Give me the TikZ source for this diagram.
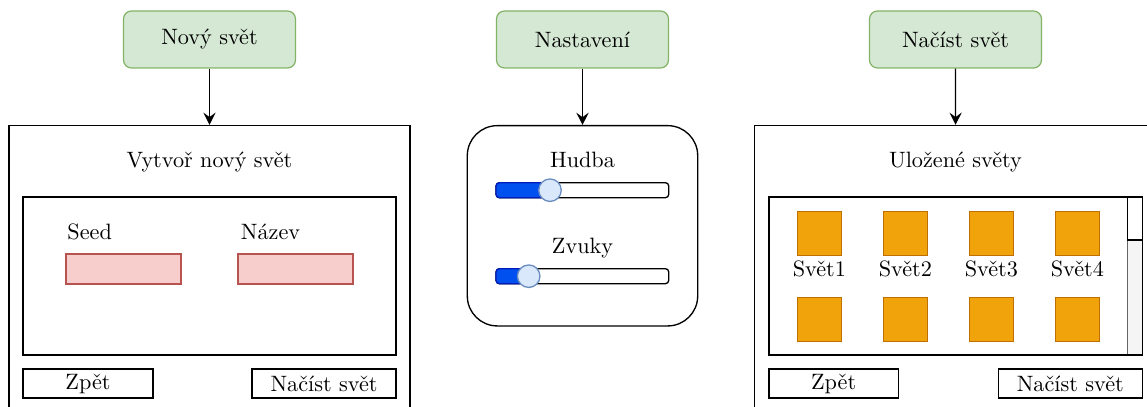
\documentclass[tikz,border=0pt]{standalone}
\usetikzlibrary{arrows.meta}
\newdimen\pxu \pxu=0.45pt
\definecolor{gfill}{HTML}{D5E8D4}
\definecolor{gstroke}{HTML}{82B366}
\definecolor{rfill}{HTML}{F8CECC}
\definecolor{rstroke}{HTML}{B85450}
\definecolor{ofill}{HTML}{F0A30A}
\definecolor{ostroke}{HTML}{BD7000}
\definecolor{bfill}{HTML}{0050EF}
\definecolor{bstroke}{HTML}{001DBC}
\definecolor{kfill}{HTML}{DAE8FC}
\definecolor{kstroke}{HTML}{6C8EBF}
\definecolor{sfill}{HTML}{F5F5F5}
\definecolor{sstroke}{HTML}{666666}
\begin{document}
\begin{tikzpicture}[x=0.45pt,y=-0.45pt,
  head/.style={draw=gstroke, fill=gfill, rounded corners=3.6pt, minimum width=172\pxu, minimum height=57\pxu, line width=0.55pt},
  frame/.style={draw, line width=0.6pt, inner sep=0},
  btn/.style={draw, line width=0.6pt, minimum height=29\pxu, inner sep=0},
  field/.style={draw=rstroke, fill=rfill, minimum width=115\pxu, minimum height=30\pxu, line width=0.55pt},
  tile/.style={draw=ostroke, fill=ofill, minimum size=44\pxu, inner sep=0, line width=0.5pt},
  lbl/.style={anchor=base, inner sep=0},
  knob/.style={circle, draw=kstroke, fill=kfill, minimum size=22.5\pxu, inner sep=0, line width=0.6pt},
  track/.style={draw, rounded corners=1.5pt, minimum width=172.7\pxu, minimum height=15\pxu, line width=0.6pt, inner sep=0},
  link/.style={-{Stealth[length=5.5pt,width=5.5pt,inset=2pt]}, line width=0.6pt}]
\useasboundingbox (0,0) rectangle (1147,407);
\clip (0,0) rectangle (1147,407);
% left
\node[head] (h1) at (209.5,39.5) {Nový svět};
\node[frame, minimum width=401\pxu, minimum height=310\pxu] (f1) at (209.5,280.5) {};
\draw[link] (h1) -- (f1);
\node[lbl] (t1) at (209.5,168) {Vytvoř nový svět};
\node[frame, minimum width=373\pxu, minimum height=158\pxu] (in1) at (209.5,276) {};
\node[lbl, anchor=base west] (seedl) at (67,240) {Seed};
\node[lbl, anchor=base west] (namel) at (240.5,240) {Název};
\node[field] (seed) at (123.5,269) {};
\node[field] (name) at (295.5,269) {};
\node[btn, minimum width=130\pxu] (back1) at (88,383.5) {Zpět};
\node[btn, minimum width=144\pxu] (load1) at (324,383.5) {Načíst svět};
% middle
\node[head] (h2) at (582.5,39.5) {Nastavení};
\node[frame, rounded corners=13.5pt, minimum width=230.4\pxu, minimum height=200.3\pxu] (f2) at (582.5,225.8) {};
\draw[link] (h2) -- (f2);
\node[lbl] (hud) at (582.5,168) {Hudba};
\node[track] (tr1) at (582.4,190.2) {};
\draw[draw=bstroke, fill=bfill, line width=0.6pt, rounded corners=1.5pt] (496,182.7) rectangle (552,197.7);
\node[knob] (k1) at (550,190.2) {};
\node[lbl] (zv) at (582.5,254) {Zvuky};
\node[track] (tr2) at (582.4,276.2) {};
\draw[draw=bstroke, fill=bfill, line width=0.6pt, rounded corners=1.5pt] (496,268.7) rectangle (530,283.7);
\node[knob] (k2) at (528.7,276.2) {};
% right
\node[head] (h3) at (955.5,39.5) {Načíst svět};
\node[frame, minimum width=402\pxu, minimum height=310\pxu] (f3) at (955.7,280.5) {};
\draw[link] (h3) -- (f3);
\node[lbl] (t3) at (955.5,168) {Uložené světy};
\node[draw=sstroke, fill=sfill, minimum width=15\pxu, minimum height=158\pxu, inner sep=0, line width=0.6pt] (sb) at (1134.8,276) {};
\node[frame, minimum width=373.3\pxu, minimum height=158\pxu] (in3) at (955.65,276) {};
\node[draw, fill=white, minimum width=15\pxu, minimum height=43\pxu, inner sep=0, line width=0.6pt] (thumb) at (1134.8,218.5) {};
\foreach \i/\x in {1/819.3,2/905.3,3/991.3,4/1077.3}{
  \node[tile] (ta\i) at (\x,233.2) {};
  \node[tile] (tb\i) at (\x,319.2) {};
  \node[lbl] (tl\i) at (\x,276.5) {Svět\i};
}
\node[btn, minimum width=129.3\pxu] (back3) at (833.65,383.5) {Zpět};
\node[btn, minimum width=144\pxu] (load3) at (1070.3,383.5) {Načíst svět};
\end{tikzpicture}
\end{document}
